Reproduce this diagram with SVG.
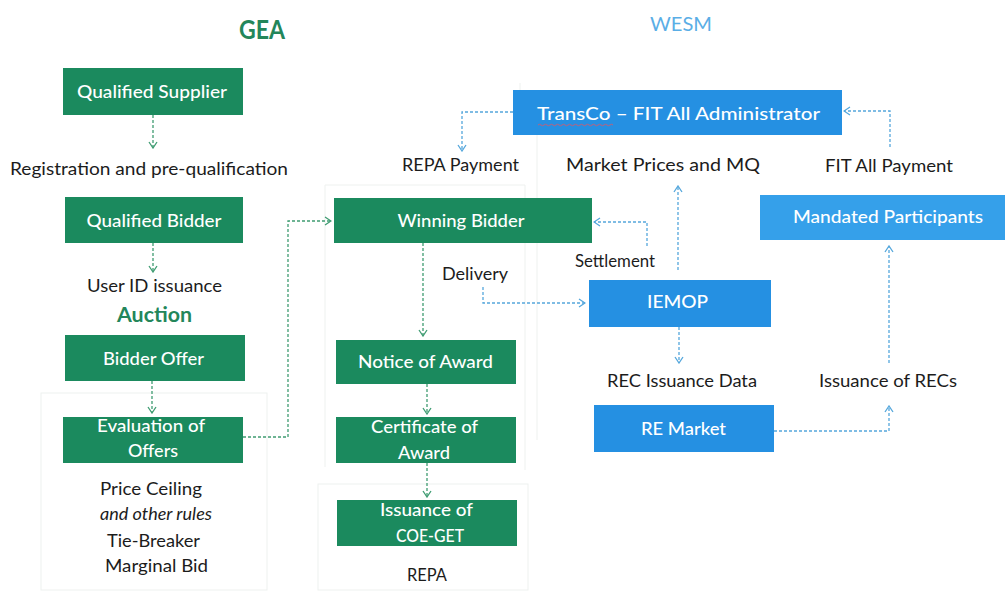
<svg xmlns="http://www.w3.org/2000/svg" width="1007" height="594" viewBox="0 0 1007 594">
  <style>
    text { font-family: Lato, "Liberation Sans", sans-serif; }
    .gbox { fill: #1b8a5e; }
    .bbox { fill: #2590e2; }
    .blab { fill: #ffffff; font-size: 18px; font-weight: 500; text-anchor: middle; }
    .lab { fill: #1c1c1c; font-size: 17px; text-anchor: middle; }
    .gcon { fill: none; stroke: #3f9c72; stroke-width: 1.3; stroke-dasharray: 3 2; }
    .bcon { fill: none; stroke: #55a7dc; stroke-width: 1.3; stroke-dasharray: 3 2; }
    .frame { fill: none; stroke: #eef1ef; stroke-width: 1; }
  </style>
  <defs>
    <marker id="gArrow" viewBox="0 0 8 10" refX="7" refY="5" markerWidth="8" markerHeight="10" markerUnits="userSpaceOnUse" orient="auto">
      <path d="M1,1 L7,5 L1,9" fill="none" stroke="#3f9c72" stroke-width="1.3"/>
    </marker>
    <marker id="bArrow" viewBox="0 0 8 10" refX="7" refY="5" markerWidth="8" markerHeight="10" markerUnits="userSpaceOnUse" orient="auto">
      <path d="M1,1 L7,5 L1,9" fill="none" stroke="#55a7dc" stroke-width="1.3"/>
    </marker>
  </defs>

  <rect width="1007" height="594" fill="#ffffff"/>

  <!-- faint slide frames behind the groups -->
  <g id="frames">
    <rect class="frame" x="41" y="393" width="226" height="197"/>
    <path class="frame" d="M325,467 V185 H525 V470"/>
    <rect class="frame" x="318" y="484" width="210" height="106"/>
    <path class="frame" d="M537,135 V440"/>
    <path class="frame" d="M520,83 V90"/>
  </g>

  <!-- section headings -->
  <text x="262" y="39" font-size="26" font-weight="bold" fill="#23865a" text-anchor="middle" textLength="46" lengthAdjust="spacingAndGlyphs">GEA</text>
  <text x="681" y="31" font-size="19" fill="#5aaee6" text-anchor="middle" textLength="62" lengthAdjust="spacingAndGlyphs">WESM</text>

  <!-- connectors -->
  <g id="connectors">
    <path class="gcon" d="M153,115 V148" marker-end="url(#gArrow)"/>
    <path class="gcon" d="M153,243 V272" marker-end="url(#gArrow)"/>
    <path class="gcon" d="M152,381 V413" marker-end="url(#gArrow)"/>
    <path class="gcon" d="M243,437 H288 V221 H331" marker-end="url(#gArrow)"/>
    <path class="gcon" d="M423,243 V336" marker-end="url(#gArrow)"/>
    <path class="gcon" d="M427,384 V414" marker-end="url(#gArrow)"/>
    <path class="gcon" d="M427,463 V497" marker-end="url(#gArrow)"/>

    <path class="bcon" d="M513,112 H462 V151" marker-end="url(#bArrow)"/>
    <path class="bcon" d="M890,147 V111 H844" marker-end="url(#bArrow)"/>
    <path class="bcon" d="M647,246 V222 H594" marker-end="url(#bArrow)"/>
    <path class="bcon" d="M678,270 V186" marker-end="url(#bArrow)"/>
    <path class="bcon" d="M483,287 V303 H585" marker-end="url(#bArrow)"/>
    <path class="bcon" d="M679,327 V363" marker-end="url(#bArrow)"/>
    <path class="bcon" d="M774,431 H889 V406" marker-end="url(#bArrow)"/>
    <path class="bcon" d="M889,363 V246" marker-end="url(#bArrow)"/>
  </g>

  <!-- GEA column -->
  <g id="qualified-supplier">
    <rect class="gbox" x="63" y="68" width="180" height="47"/>
    <text class="blab" x="152" y="98" textLength="150" lengthAdjust="spacingAndGlyphs">Qualified Supplier</text>
  </g>
  <text class="lab" x="149" y="175" textLength="278" lengthAdjust="spacingAndGlyphs">Registration and pre-qualification</text>

  <g id="qualified-bidder">
    <rect class="gbox" x="65" y="197" width="178" height="46"/>
    <text class="blab" x="154" y="227" textLength="135" lengthAdjust="spacingAndGlyphs">Qualified Bidder</text>
  </g>
  <text class="lab" x="154.5" y="292" textLength="135" lengthAdjust="spacingAndGlyphs">User ID issuance</text>
  <text x="154.5" y="322" font-size="21" font-weight="bold" fill="#23865a" text-anchor="middle" textLength="75" lengthAdjust="spacingAndGlyphs">Auction</text>

  <g id="bidder-offer">
    <rect class="gbox" x="65" y="335" width="180" height="46"/>
    <text class="blab" x="153.5" y="365" textLength="101" lengthAdjust="spacingAndGlyphs">Bidder Offer</text>
  </g>

  <g id="evaluation-of-offers">
    <rect class="gbox" x="63" y="417" width="180" height="46"/>
    <text class="blab" x="151" y="432" textLength="108" lengthAdjust="spacingAndGlyphs">Evaluation of</text>
    <text class="blab" x="153" y="457" textLength="50" lengthAdjust="spacingAndGlyphs">Offers</text>
  </g>
  <text class="lab" x="151" y="495" textLength="102" lengthAdjust="spacingAndGlyphs">Price Ceiling</text>
  <text class="lab" x="156" y="520" font-size="15" font-style="italic" textLength="112" lengthAdjust="spacingAndGlyphs">and other rules</text>
  <text class="lab" x="153.5" y="547" textLength="93" lengthAdjust="spacingAndGlyphs">Tie-Breaker</text>
  <text class="lab" x="156.5" y="572" textLength="103" lengthAdjust="spacingAndGlyphs">Marginal Bid</text>

  <!-- award column -->
  <text class="lab" x="460.5" y="171" textLength="117" lengthAdjust="spacingAndGlyphs">REPA Payment</text>
  <g id="winning-bidder">
    <rect class="gbox" x="334" y="198" width="258" height="45"/>
    <text class="blab" x="461" y="227" textLength="127" lengthAdjust="spacingAndGlyphs">Winning Bidder</text>
  </g>
  <text class="lab" x="475" y="280" textLength="66" lengthAdjust="spacingAndGlyphs">Delivery</text>

  <g id="notice-of-award">
    <rect class="gbox" x="336" y="340" width="180" height="44"/>
    <text class="blab" x="425.5" y="368" textLength="135" lengthAdjust="spacingAndGlyphs">Notice of Award</text>
  </g>

  <g id="certificate-of-award">
    <rect class="gbox" x="336" y="417" width="180" height="46"/>
    <text class="blab" x="424.5" y="433" textLength="107" lengthAdjust="spacingAndGlyphs">Certificate of</text>
    <text class="blab" x="424" y="459" textLength="52" lengthAdjust="spacingAndGlyphs">Award</text>
  </g>

  <g id="issuance-of-coe-get">
    <rect class="gbox" x="337" y="500" width="180" height="46"/>
    <text class="blab" x="426.5" y="516" textLength="93" lengthAdjust="spacingAndGlyphs">Issuance of</text>
    <text class="blab" x="430" y="542" textLength="68" lengthAdjust="spacingAndGlyphs">COE-GET</text>
  </g>
  <text class="lab" x="427" y="581" textLength="40" lengthAdjust="spacingAndGlyphs">REPA</text>

  <!-- WESM side -->
  <g id="transco">
    <rect class="bbox" x="513" y="90" width="329" height="45"/>
    <text class="blab" x="678.5" y="120" font-size="21" textLength="283" lengthAdjust="spacingAndGlyphs">TransCo – FIT All Administrator</text>
    <path d="M538,125 q1.5,-1.5 3,0 t3,0 t3,0 t3,0 t3,0 t3,0 t3,0 t3,0 t3,0 t3,0 t3,0 t3,0 t3,0 t3,0 t3,0 t3,0 t3,0 t3,0 t3,0 t3,0 t3,0 t3,0 t3,0 t3,0 t3,0" fill="none" stroke="#c0607a" stroke-width="1"/>
  </g>
  <text class="lab" x="663" y="171" textLength="194" lengthAdjust="spacingAndGlyphs">Market Prices and MQ</text>
  <text class="lab" x="889" y="172" textLength="128" lengthAdjust="spacingAndGlyphs">FIT All Payment</text>

  <g id="mandated-participants">
    <rect x="760" y="195" width="245" height="45" fill="#35a0ea"/>
    <text class="blab" x="888" y="223" textLength="190" lengthAdjust="spacingAndGlyphs">Mandated Participants</text>
  </g>
  <text class="lab" x="615" y="267" textLength="80" lengthAdjust="spacingAndGlyphs">Settlement</text>

  <g id="iemop">
    <rect class="bbox" x="589" y="280" width="182" height="47"/>
    <text class="blab" x="677.5" y="308" textLength="61" lengthAdjust="spacingAndGlyphs">IEMOP</text>
  </g>
  <text class="lab" x="682" y="387" textLength="150" lengthAdjust="spacingAndGlyphs">REC Issuance Data</text>
  <text class="lab" x="888" y="387" textLength="138" lengthAdjust="spacingAndGlyphs">Issuance of RECs</text>

  <g id="re-market">
    <rect class="bbox" x="594" y="405" width="180" height="47"/>
    <text class="blab" x="683.5" y="435" textLength="85" lengthAdjust="spacingAndGlyphs">RE Market</text>
  </g>
</svg>
